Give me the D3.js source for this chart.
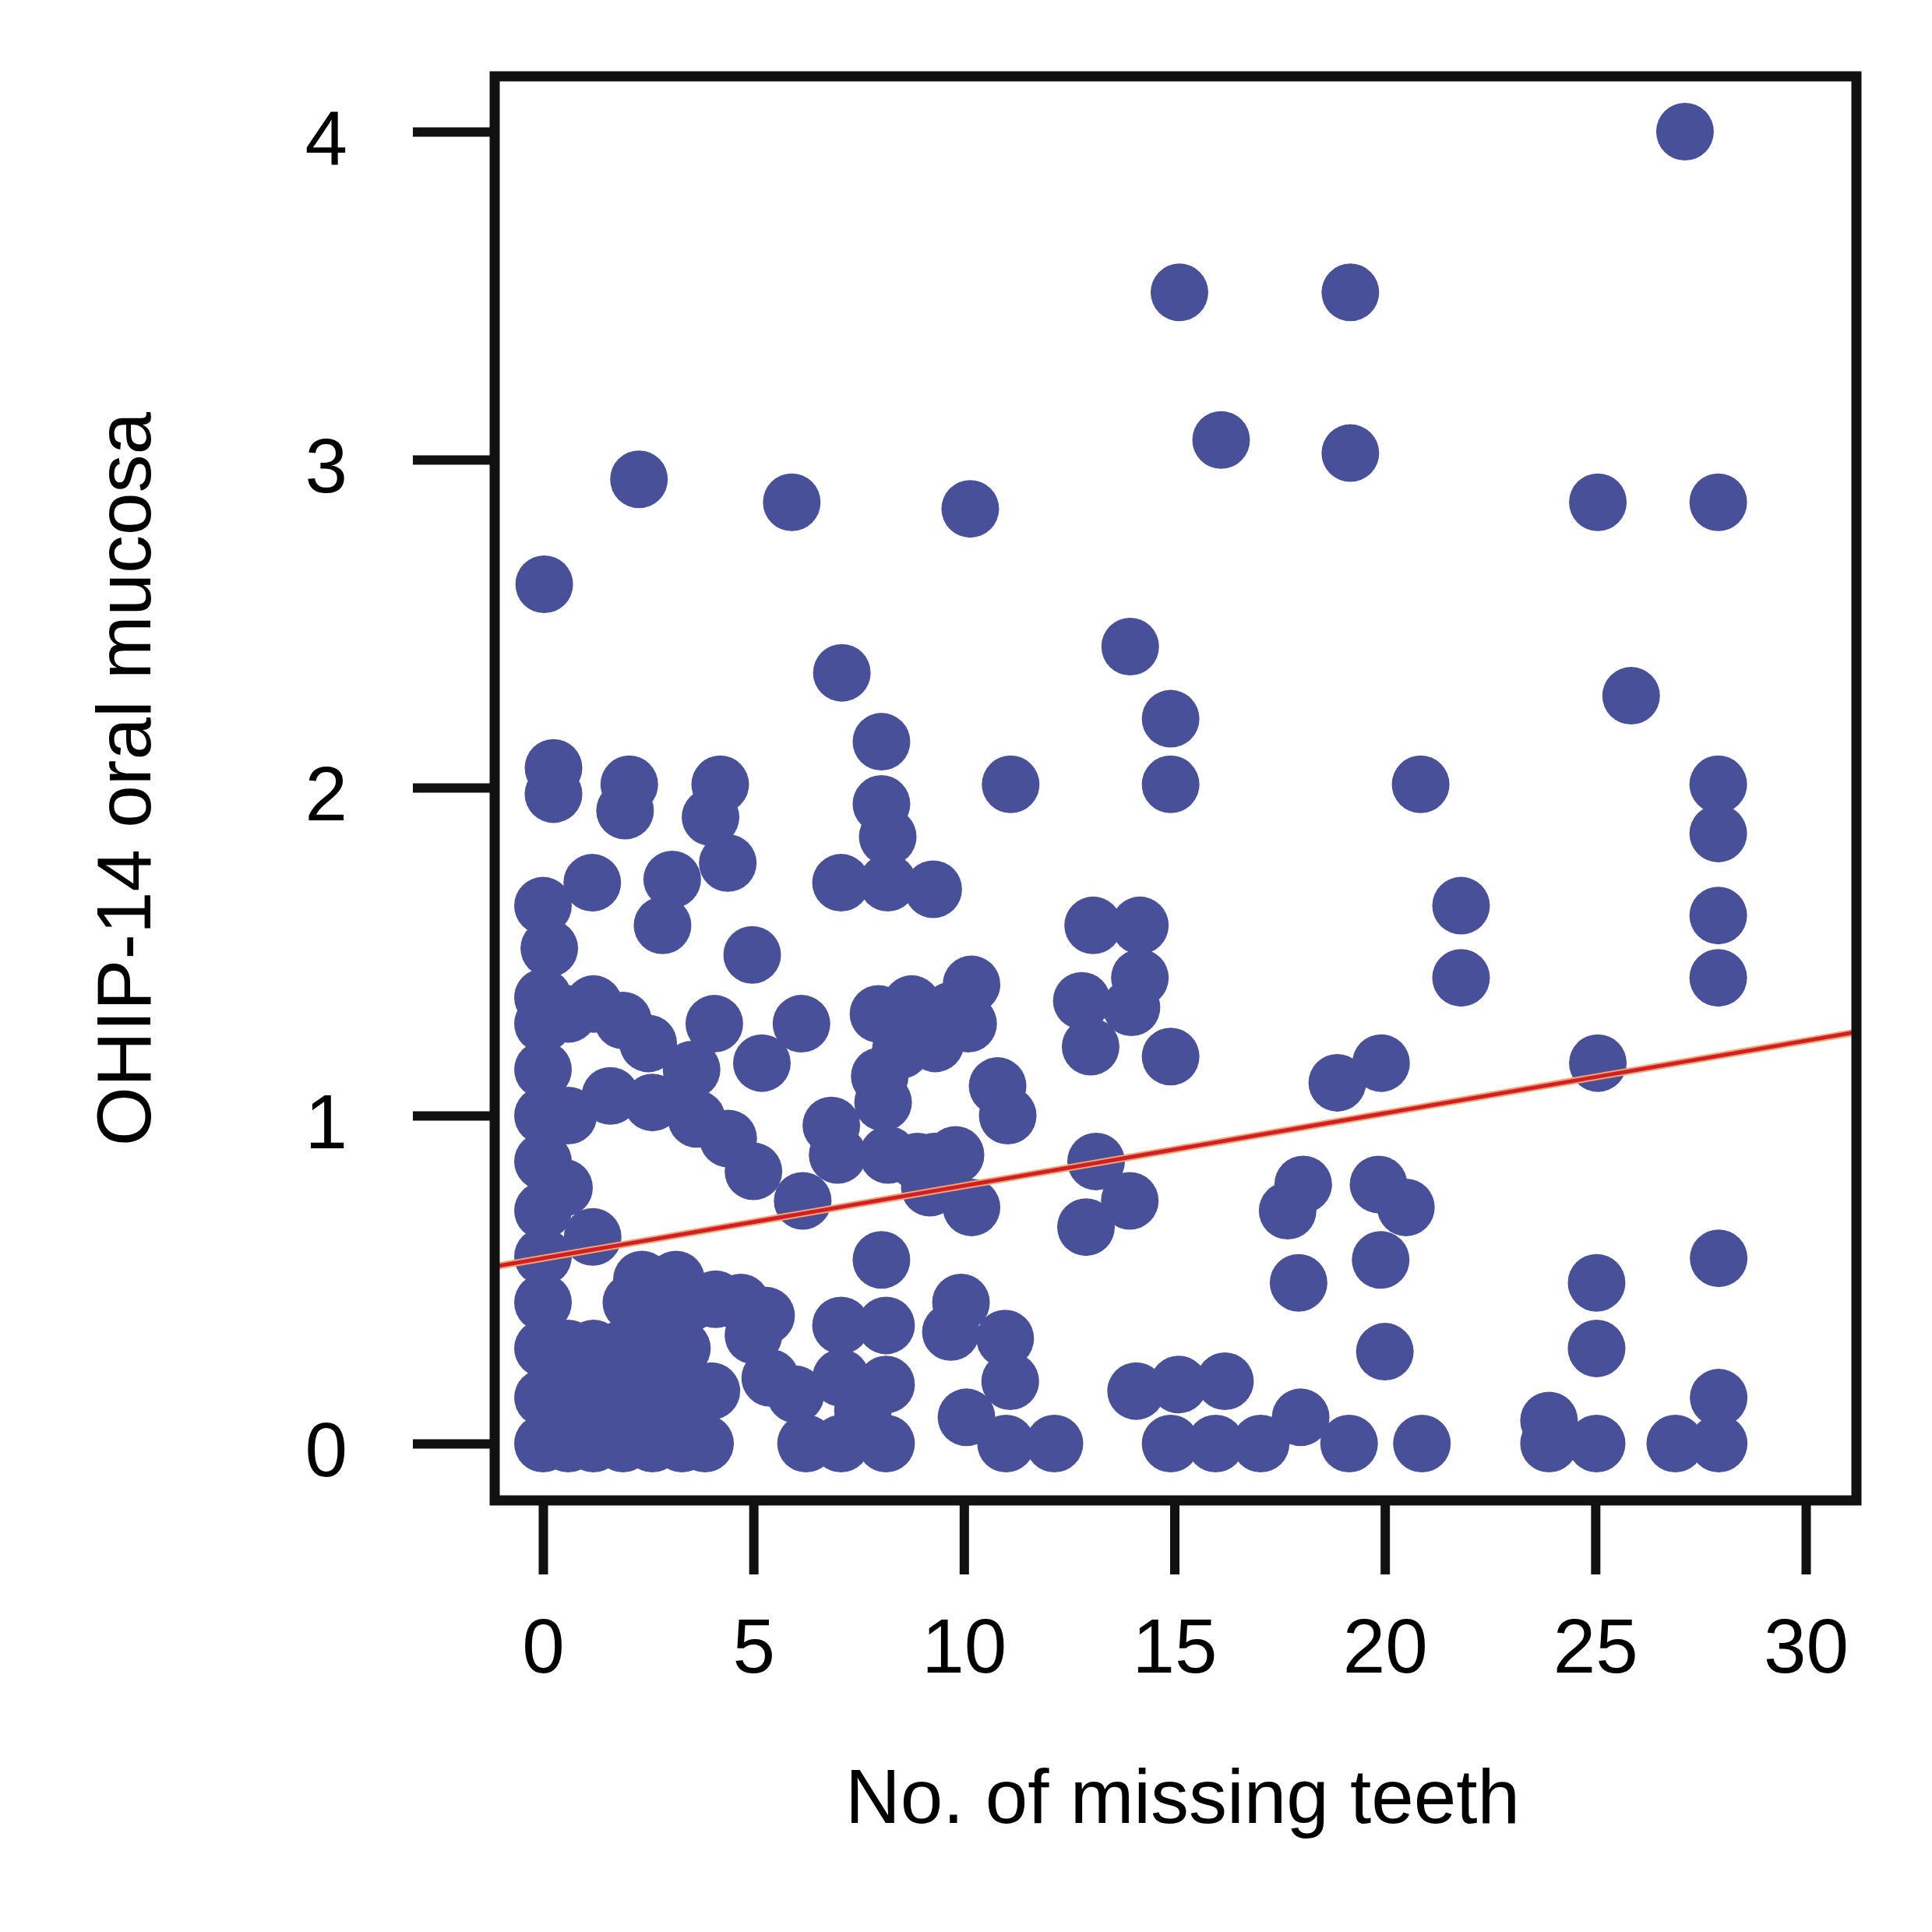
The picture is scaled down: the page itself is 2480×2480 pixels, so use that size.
<!DOCTYPE html>
<html>

<head>
    <meta charset="UTF-8">
    <style>
        body { margin: 0; background: #fff; }
    </style>
</head>

<body>
    <svg></svg>
    <script src="https://d3js.org/d3.v7.min.js"></script>

    <script>
        const w = 2480;
        const h = 2480;
        // edges of the framed plot area
        const box = { left: 635, right: 2383, top: 98, bottom: 1926 };

        const xTicks = [0, 5, 10, 15, 20, 25, 30];
        const yTicks = [0, 1, 2, 3, 4];
        const xTitle = "No. of missing teeth";
        const yTitle = "OHIP-14 oral mucosa";

        // fitted line: OHIP = intercept + slope * missing teeth
        const fitIntercept = 0.565;
        const fitSlope = 0.0221;

        // [no. of missing teeth, OHIP-14 oral mucosa]
        const upperPoints = [
            [27.13, 4.00], [15.12, 3.51], [19.18, 3.51], [16.11, 3.06], [19.18, 3.02],
            [2.28, 2.94], [5.91, 2.87], [10.15, 2.85], [25.06, 2.87], [27.92, 2.87],
            [0.03, 2.62], [13.95, 2.43], [7.10, 2.35], [25.85, 2.28], [14.91, 2.21], [8.04, 2.14],
            [0.25, 2.06], [0.25, 1.98], [14.91, 2.01], [11.11, 2.01], [20.85, 2.01], [27.92, 2.01],
            [2.05, 2.01], [1.95, 1.93], [4.21, 2.01], [3.98, 1.91], [4.39, 1.77],
            [8.04, 1.95], [8.19, 1.85], [27.92, 1.86],
            [1.17, 1.71], [3.07, 1.72], [2.84, 1.58], [0.00, 1.64], [0.15, 1.51], [4.97, 1.49],
            [7.08, 1.71], [8.19, 1.71], [9.27, 1.69], [13.07, 1.58], [14.18, 1.58],
            [21.81, 1.64], [27.92, 1.61]
        ];

        const middlePoints = [
            [14.18, 1.42], [13.98, 1.33], [12.80, 1.35], [13.01, 1.21], [14.91, 1.18],
            [21.81, 1.42], [27.92, 1.42], [18.87, 1.10], [19.91, 1.16], [25.06, 1.16],
            [13.14, 0.86], [13.94, 0.74], [12.90, 0.66], [18.06, 0.79], [17.69, 0.71],
            [19.85, 0.79], [20.50, 0.72],
            [7.97, 1.31], [8.76, 1.34], [10.18, 1.40], [10.10, 1.28], [9.32, 1.22], [8.50, 1.20],
            [9.00, 1.28], [9.70, 1.32], [8.50, 1.28],
            [8.00, 1.12], [8.08, 1.04], [6.85, 0.97], [7.00, 0.88], [8.20, 0.88], [8.90, 0.86],
            [9.30, 0.86], [9.80, 0.88], [9.19, 0.78],
            [10.18, 0.72], [10.80, 1.09], [11.04, 1.00], [6.17, 0.74], [6.14, 1.28],
            [5.20, 1.16],
            [0.00, 1.36], [0.00, 1.28], [0.60, 1.31], [1.20, 1.34], [1.90, 1.29], [2.50, 1.22],
            [3.53, 1.14], [4.07, 1.28],
            [1.60, 1.06], [2.60, 1.04], [3.65, 0.99], [4.40, 0.93], [5.00, 0.83],
            [0.00, 1.14], [0.00, 1.00], [0.00, 0.86], [0.00, 0.71], [0.60, 1.00], [0.50, 0.78],
            [1.18, 0.63]
        ];

        const lowerLeftPoints = [
            [0.00, 0.00], [0.00, 0.14], [0.00, 0.29], [0.00, 0.43], [0.00, 0.57],
            [0.60, 0.00], [0.60, 0.14], [0.60, 0.29],
            [1.20, 0.00], [1.20, 0.14], [1.20, 0.29],
            [1.90, 0.00], [1.90, 0.14], [1.90, 0.29], [2.10, 0.43],
            [2.60, 0.00], [2.60, 0.14], [2.60, 0.29], [2.80, 0.43], [2.35, 0.50],
            [3.30, 0.00], [3.30, 0.14], [3.30, 0.29], [3.50, 0.43], [3.16, 0.50],
            [3.85, 0.00], [4.00, 0.16], [4.10, 0.44],
            [4.70, 0.43], [5.00, 0.33], [5.30, 0.39], [5.40, 0.20], [6.00, 0.15],
            [6.25, 0.00], [7.08, 0.00], [8.15, 0.00], [7.60, 0.10], [7.08, 0.20], [8.15, 0.18],
            [7.08, 0.36], [8.15, 0.36], [8.04, 0.56],
            [9.93, 0.43], [9.69, 0.34], [10.98, 0.32], [11.10, 0.19], [10.06, 0.08],
            [11.00, 0.00], [12.15, 0.00]
        ];

        const lowerRightPoints = [
            [14.09, 0.16], [15.10, 0.18], [16.20, 0.19], [14.91, 0.00], [15.98, 0.00],
            [17.05, 0.00], [18.00, 0.08], [19.15, 0.00], [20.88, 0.00],
            [17.95, 0.49], [19.90, 0.56], [20.00, 0.28],
            [23.90, 0.00], [23.90, 0.07], [25.03, 0.00], [25.03, 0.29], [25.03, 0.49],
            [26.90, 0.00], [27.93, 0.00], [27.93, 0.14], [27.93, 0.565]
        ];

        const allPoints = upperPoints.concat(middlePoints, lowerLeftPoints, lowerRightPoints);

        let svg = d3.select("svg")
            .attr("width", w)
            .attr("height", h)
            .style("display", "block");

        svg.append("rect")
            .attr("width", w)
            .attr("height", h)
            .attr("fill", "#fff");

        const x = d3.scaleLinear()
            .domain([0, 30])
            .range([697, 2318]);

        const y = d3.scaleLinear()
            .domain([0, 4])
            .range([1853, 169]);

        // keep the fitted line inside the frame
        svg.append("clipPath")
            .attr("id", "plotClip")
            .append("rect")
            .attr("x", box.left)
            .attr("y", box.top)
            .attr("width", box.right - box.left)
            .attr("height", box.bottom - box.top);

        // points
        svg.append("g")
            .selectAll("circle")
            .data(allPoints)
            .enter()
            .append("circle")
            .attr("cx", d => x(d[0]))
            .attr("cy", d => y(d[1]))
            .attr("r", 37)
            .attr("fill", "#49509a");

        // regression line across the whole frame
        const x0 = x.invert(box.left), x1 = x.invert(box.right);
        const fitLine = svg.append("g").attr("clip-path", "url(#plotClip)");
        // soft orange edge, then the red core
        [["#f2a56e", 9], ["#d21f27", 5]].forEach(([col, sw]) => {
            fitLine.append("line")
                .attr("x1", x(x0))
                .attr("y1", y(fitIntercept + fitSlope * x0))
                .attr("x2", x(x1))
                .attr("y2", y(fitIntercept + fitSlope * x1))
                .attr("stroke", col)
                .attr("stroke-width", sw);
        });

        // frame
        svg.append("rect")
            .attr("x", box.left)
            .attr("y", box.top)
            .attr("width", box.right - box.left)
            .attr("height", box.bottom - box.top)
            .attr("fill", "none")
            .attr("stroke", "#111")
            .attr("stroke-width", 13);

        // axes
        const xAxis = d3.axisBottom(x)
            .tickValues(xTicks)
            .tickSize(95)
            .tickPadding(56)
            .tickFormat(d3.format("d"));

        const yAxis = d3.axisLeft(y)
            .tickValues(yTicks)
            .tickSize(105)
            .tickPadding(84)
            .tickFormat(d3.format("d"));

        const gx = svg.append("g")
            .attr("transform", "translate(0," + box.bottom + ")")
            .call(xAxis);

        const gy = svg.append("g")
            .attr("transform", "translate(" + box.left + ",0)")
            .call(yAxis);

        [gx, gy].forEach(g => {
            g.select(".domain").remove();
            g.attr("font-family", "'Liberation Sans', Arial, sans-serif")
                .attr("font-size", 98);
            g.selectAll(".tick line")
                .attr("stroke", "#111")
                .attr("stroke-width", 12);
            g.selectAll(".tick text").attr("fill", "#000");
        });
        gy.selectAll(".tick text").attr("dy", "0.42em");

        // axis titles
        svg.append("text")
            .attr("x", 1518)
            .attr("y", 2340)
            .attr("text-anchor", "middle")
            .attr("font-family", "'Liberation Sans', Arial, sans-serif")
            .attr("font-size", 98)
            .text(xTitle);

        svg.append("text")
            .attr("transform", "translate(193,1000) rotate(-90)")
            .attr("text-anchor", "middle")
            .attr("font-family", "'Liberation Sans', Arial, sans-serif")
            .attr("font-size", 98)
            .text(yTitle);
    </script>

</body>

</html>
